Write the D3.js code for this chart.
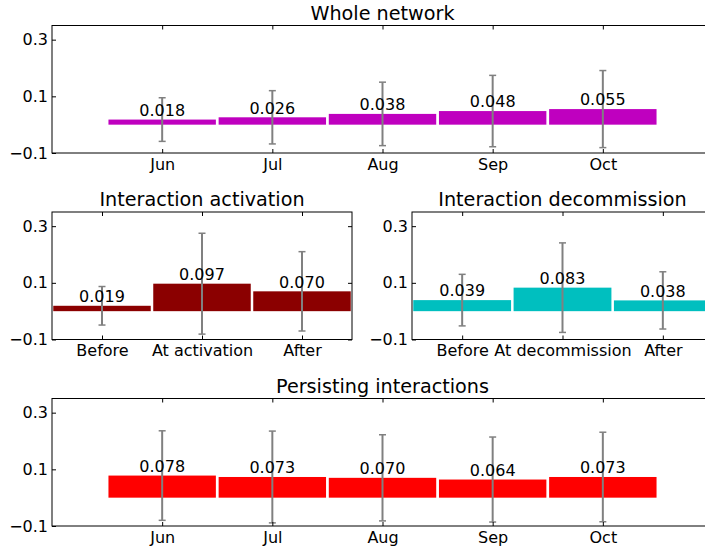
<!DOCTYPE html>
<html>
<head>
<meta charset="utf-8">
<script src="https://cdn.jsdelivr.net/npm/d3@7"></script>
<style>
  body { margin: 0; background: #fff; }
  svg { display: block; font-family: "DejaVu Sans", sans-serif; }
  .domain { display: none; }
  .tick line { stroke: #000; stroke-width: 1; }
  .tick text { fill: #000; }
</style>
</head>
<body>
<div id="chart"></div>
<script>
// values
var months = ['Jun', 'Jul', 'Aug', 'Sep', 'Oct']
var wholeMeans = [0.018, 0.026, 0.038, 0.048, 0.055]
var wholeStd = [0.077, 0.094, 0.112, 0.126, 0.136]

var activationPhases = ['Before', 'At activation', 'After']
var activationMeans = [0.019, 0.097, 0.070]
var activationStd = [0.068, 0.178, 0.140]

var decommissionPhases = ['Before', 'At decommission', 'After']
var decommissionMeans = [0.039, 0.083, 0.038]
var decommissionStd = [0.091, 0.158, 0.101]

var persistingMeans = [0.078, 0.073, 0.070, 0.064, 0.073]
var persistingStd = [0.158, 0.162, 0.152, 0.150, 0.158]

var yTicks = [-0.1, 0.1, 0.3]
var yDomain = [-0.1, 0.35]

var width = 705,
    height = 552,
    font = '"DejaVu Sans", sans-serif'

var panels = [
    {title: 'Whole network', cats: months, means: wholeMeans, std: wholeStd,
     color: '#bf00bf', box: {left: 52, right: 713, top: 25.5, bottom: 153}, pad: 1},
    {title: 'Interaction activation', cats: activationPhases, means: activationMeans, std: activationStd,
     color: '#8b0000', box: {left: 52, right: 352, top: 212, bottom: 339.5}, pad: 0.5},
    {title: 'Interaction decommission', cats: decommissionPhases, means: decommissionMeans, std: decommissionStd,
     color: '#00bfbf', box: {left: 412, right: 713, top: 212, bottom: 339.5}, pad: 0.5},
    {title: 'Persisting interactions', cats: months, means: persistingMeans, std: persistingStd,
     color: '#ff0000', box: {left: 52, right: 713, top: 398.5, bottom: 526}, pad: 1}
]

var svg = d3.select('#chart').append('svg')
    .attr('width', width)
    .attr('height', height)

var fmt = d3.format('.3f')

panels.forEach(function (p) {
    var b = p.box
    var x = d3.scalePoint()
        .domain(p.cats)
        .range([b.left, b.right])
        .padding(p.pad)
    var y = d3.scaleLinear()
        .domain(yDomain)
        .range([b.bottom, b.top])
    var barW = x.step() * 0.975

    var g = svg.append('g')
    var rows = p.cats.map(function (c, i) {
        return {cat: c, mean: p.means[i], std: p.std[i]}
    })

    // bars
    g.selectAll('rect.bar')
        .data(rows)
        .enter().append('rect')
        .attr('class', 'bar')
        .attr('x', function (d) { return x(d.cat) - barW / 2 })
        .attr('width', barW)
        .attr('y', function (d) { return y(Math.max(0, d.mean)) })
        .attr('height', function (d) { return Math.abs(y(d.mean) - y(0)) })
        .attr('fill', p.color)

    // error bars
    var err = g.selectAll('g.err')
        .data(rows)
        .enter().append('g')
        .attr('class', 'err')
        .attr('stroke', '#808080')
    err.append('line')
        .attr('x1', function (d) { return x(d.cat) })
        .attr('x2', function (d) { return x(d.cat) })
        .attr('y1', function (d) { return y(d.mean - d.std) })
        .attr('y2', function (d) { return y(d.mean + d.std) })
        .attr('stroke-width', 2)
    err.selectAll('line.cap')
        .data(function (d) { return [d.mean - d.std, d.mean + d.std].map(function (v) { return {cat: d.cat, v: v} }) })
        .enter().append('line')
        .attr('class', 'cap')
        .attr('x1', function (d) { return x(d.cat) - 3.5 })
        .attr('x2', function (d) { return x(d.cat) + 3.5 })
        .attr('y1', function (d) { return y(d.v) })
        .attr('y2', function (d) { return y(d.v) })
        .attr('stroke-width', 1.5)

    // value labels
    g.selectAll('text.val')
        .data(rows)
        .enter().append('text')
        .attr('class', 'val')
        .attr('x', function (d) { return x(d.cat) })
        .attr('y', function (d) { return y(d.mean) - 3.8 })
        .attr('text-anchor', 'middle')
        .attr('font-size', 16)
        .text(function (d) { return fmt(d.mean) })

    // axes, ticks pointing inward like matplotlib classic
    function styleAxis(sel) {
        sel.attr('font-family', font).attr('font-size', 16)
    }
    g.append('g')
        .attr('transform', 'translate(' + b.left + ',0)')
        .call(d3.axisLeft(y).tickValues(yTicks).tickSize(-4).tickPadding(4)
            .tickFormat(function (d) { return d3.format('.1f')(d).replace('-', '\u2212') }))
        .call(styleAxis)
    g.append('g')
        .attr('transform', 'translate(' + b.right + ',0)')
        .call(d3.axisRight(y).tickValues(yTicks).tickSize(-4).tickFormat(''))
    g.append('g')
        .attr('transform', 'translate(0,' + b.bottom + ')')
        .call(d3.axisBottom(x).tickSize(-4).tickPadding(5.5))
        .call(styleAxis)
    g.append('g')
        .attr('transform', 'translate(0,' + b.top + ')')
        .call(d3.axisTop(x).tickSize(-4).tickFormat(''))

    g.append('rect')
        .attr('x', b.left)
        .attr('y', b.top)
        .attr('width', b.right - b.left)
        .attr('height', b.bottom - b.top)
        .attr('fill', 'none')
        .attr('stroke', '#000')
        .attr('stroke-width', 1)

    g.append('text')
        .attr('x', (b.left + b.right) / 2)
        .attr('y', b.top - 6)
        .attr('text-anchor', 'middle')
        .attr('font-size', 19.2)
        .text(p.title)
})
</script>
</body>
</html>
